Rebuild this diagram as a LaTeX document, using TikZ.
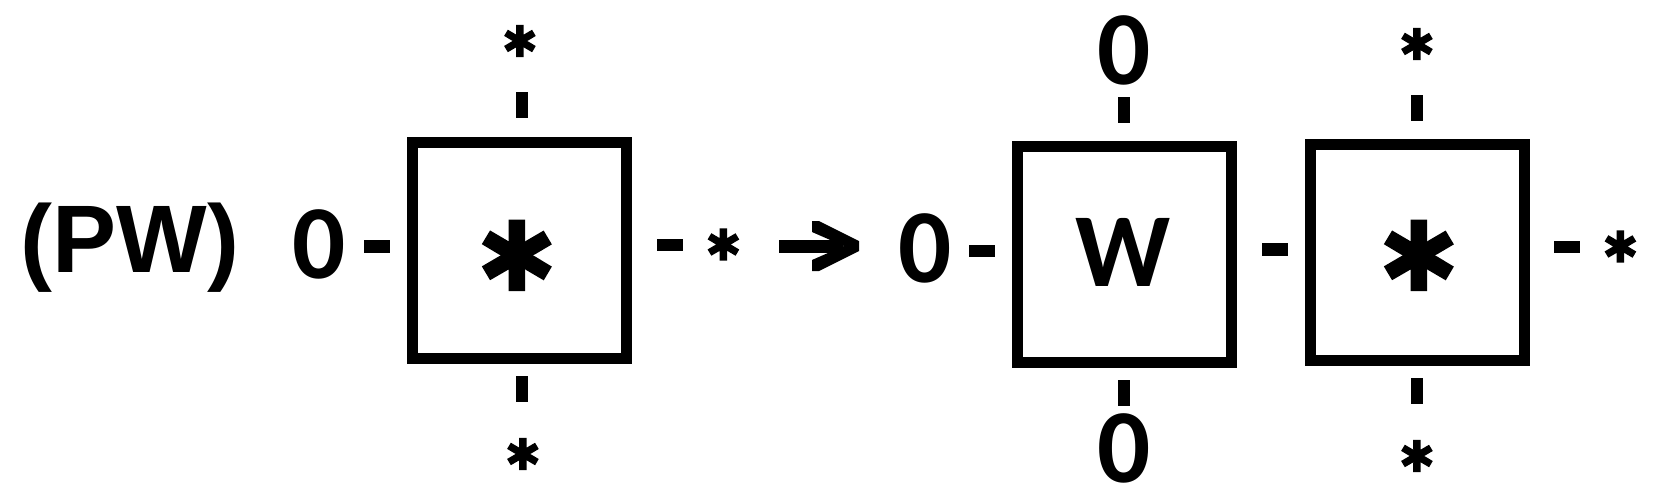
\documentclass[tikz,border=0pt]{standalone}
\usepackage{fontspec}
\setmainfont{Liberation Sans}
\newfontfamily\calfont{Carlito}
\newfontfamily\starfont{Carlito}[FakeBold=2]
\usetikzlibrary{calc}
\begin{document}
\begin{tikzpicture}[x=1pt,y=-1pt,
  box/.style={draw,line width=11pt,minimum width=214pt,minimum height=216pt,inner sep=0pt},
  lbl/.style={font=\fontsize{96pt}{96pt}\selectfont\bfseries,inner sep=0pt,anchor=base},
  cal/.style={font=\calfont\fontsize{105pt}{105pt}\selectfont\bfseries,inner sep=0pt,anchor=base},
  star/.style={font=\starfont\fontsize{94pt}{94pt}\selectfont\bfseries,inner sep=0pt,anchor=base},
  bigstar/.style={font=\starfont\fontsize{208pt}{208pt}\selectfont\bfseries,inner sep=0pt,anchor=base},
  hdash/.style={fill=black,inner sep=0pt,minimum width=26pt,minimum height=12.5pt},
  vdash/.style={fill=black,inner sep=0pt,minimum width=12pt,minimum height=26pt},
  shaft/.style={line width=13pt}]
\useasboundingbox (0,0) rectangle (1666,499);
% boxes
\node[box] (b1) at (519.5,250) {};
\node[box] (bW) at (1124.5,254) {};
\node[box] (b3) at (1417,252.5) {};
% labels
\node[lbl] (pw) at (130,272) {(PW)};
\node[cal] (z1) at (319.5,278) {0};
\node[cal] (z2) at (925,282) {0};
\node[cal] (zt) at (1124,84) {0};
\node[cal] (zb) at (1124,482) {0};
\node[cal] (w) at (1123.5,286) {W};
\node[star] (s1t) at (520,93) {*};
\node[star] (s1b) at (523,506) {*};
\node[star] (s1r) at (723.5,296.5) {*};
\node[star] (s3t) at (1417,96) {*};
\node[star] (s3b) at (1417,508) {*};
\node[star] (s3r) at (1620.5,298.5) {*};
\node[bigstar] (big1) at (517,370.5) {*};
\node[bigstar] (big3) at (1419,370.5) {*};
% bonds
\node[hdash] (h1) at (377,246.5) {};
\node[hdash] (h2) at (669.5,245) {};
\node[hdash] (h3) at (982,251) {};
\node[hdash] (h4) at (1275,249.5) {};
\node[hdash] (h5) at (1567,247) {};
\node[vdash] (v1t) at (522,105) {};
\node[vdash] (v1b) at (522,389) {};
\node[vdash] (vWt) at (1124,109.5) {};
\node[vdash] (vWb) at (1124,392.5) {};
\node[vdash] (v3t) at (1417,107.5) {};
\node[vdash] (v3b) at (1417,391) {};
% reaction arrow
\coordinate (arrS) at (779,246);
\coordinate (arrE) at (859,246);
\draw[shaft] (arrS) -- ($(arrE)+(-16,0)$);
\fill[shift={(arrE)}] (0,-5) -- (-40,-25) -- (-47,-25) -- (-47,-14) -- (-15,0)
  -- (-47,14) -- (-47,25) -- (-40,25) -- (0,5) -- cycle;
\end{tikzpicture}
\end{document}
